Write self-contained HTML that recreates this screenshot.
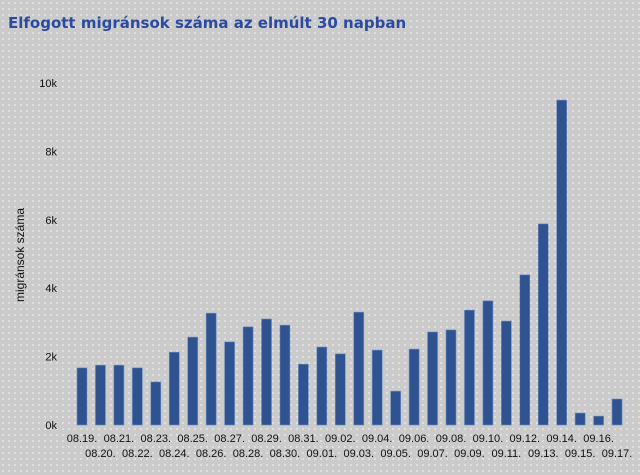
<!DOCTYPE html>
<html><head><meta charset="utf-8"><style>
html,body{margin:0;padding:0;}
body{width:640px;height:475px;overflow:hidden;background:#cbcbcb;
background-image:radial-gradient(circle,#ececec 0.7px,transparent 1px);background-size:6px 6px;}
svg{position:absolute;left:0;top:0;}
</style></head><body>
<svg width="640" height="475">
<text x="8" y="28" font-family="'DejaVu Sans','Liberation Sans',sans-serif" font-size="15" font-weight="bold" fill="#2b4aa0">Elfogott migránsok száma az elmúlt 30 napban</text>
<text transform="translate(24,255) rotate(-90)" text-anchor="middle" font-family="'Liberation Sans',sans-serif" font-size="12" fill="#111">migránsok száma</text>
<g id="yaxis"></g><g id="bars"></g><g id="xaxis"></g>
</svg>
<script>
const categories=["08.19.","08.20.","08.21.","08.22.","08.23.","08.24.","08.25.","08.26.","08.27.","08.28.","08.29.","08.30.","08.31.","09.01.","09.02.","09.03.","09.04.","09.05.","09.06.","09.07.","09.08.","09.09.","09.10.","09.11.","09.12.","09.13.","09.14.","09.15.","09.16.","09.17."];
const values=[1670,1750,1750,1670,1260,2130,2570,3270,2430,2870,3100,2920,1780,2280,2080,3300,2190,990,2220,2720,2780,3360,3630,3040,4390,5880,9500,350,260,760];
const yTicks=[0,2000,4000,6000,8000,10000];
const yTickLabels=["0k","2k","4k","6k","8k","10k"];
const NS="http://www.w3.org/2000/svg";
const y0=425,pxPer=(425-83)/10000;
const y=v=>y0-v*pxPer;
const x=i=>82+i*18.45;
const ya=document.getElementById('yaxis'),ba=document.getElementById('bars'),xa=document.getElementById('xaxis');
yTicks.forEach((t,i)=>{const e=document.createElementNS(NS,'text');
e.setAttribute('x',57);e.setAttribute('y',y(t)+4);e.setAttribute('text-anchor','end');
e.setAttribute('font-family','Liberation Sans, sans-serif');e.setAttribute('font-size','11');e.setAttribute('fill','#111');


e.textContent=yTickLabels[i];ya.appendChild(e);});
values.forEach((v,i)=>{const r=document.createElementNS(NS,'rect');
r.setAttribute('x',x(i)-5);r.setAttribute('y',y(v));r.setAttribute('width',10);r.setAttribute('height',y0-y(v));
r.setAttribute('fill','#2f5290');r.setAttribute('stroke','#6d8fc4');r.setAttribute('stroke-width','0.6');


ba.appendChild(r);});
categories.forEach((c,i)=>{const e=document.createElementNS(NS,'text');
e.setAttribute('x',x(i));e.setAttribute('y',i%2?457:442);e.setAttribute('text-anchor','middle');
e.setAttribute('font-family','Liberation Sans, sans-serif');e.setAttribute('font-size','11');e.setAttribute('fill','#111');


e.textContent=c;xa.appendChild(e);});
</script>
</body></html>
